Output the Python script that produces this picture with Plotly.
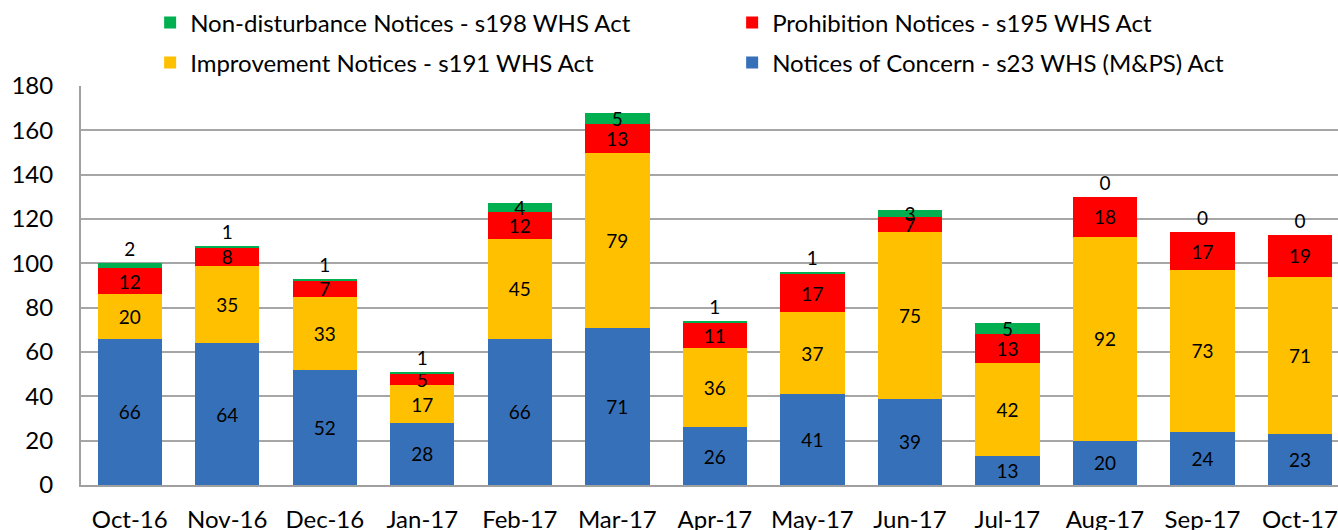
import plotly.graph_objects as go

months = ["Oct-16", "Nov-16", "Dec-16", "Jan-17", "Feb-17", "Mar-17", "Apr-17",
          "May-17", "Jun-17", "Jul-17", "Aug-17", "Sep-17", "Oct-17"]
concern = [66, 64, 52, 28, 66, 71, 26, 41, 39, 13, 20, 24, 23]
improvement = [20, 35, 33, 17, 45, 79, 36, 37, 75, 42, 92, 73, 71]
prohibition = [12, 8, 7, 5, 12, 13, 11, 17, 7, 13, 18, 17, 19]
nondisturbance = [2, 1, 1, 1, 4, 5, 1, 1, 3, 5, 0, 0, 0]

FONT = "Lato"
series = [
    ("Notices of Concern - s23 WHS (M&PS) Act", concern, "#3670B8", "legend2"),
    ("Improvement Notices - s191 WHS Act", improvement, "#FFC000", "legend2"),
    ("Prohibition Notices - s195 WHS Act", prohibition, "#FF0000", "legend"),
    ("Non-disturbance Notices - s198 WHS Act", nondisturbance, "#00B050", "legend"),
]

fig = go.Figure()
for i, (name, vals, color, leg) in enumerate(series):
    top = i == len(series) - 1
    pos = ["inside" if (not top or v >= 3) else "outside" for v in vals]
    fig.add_trace(go.Bar(
        x=months, y=vals, name=name, legend=leg,
        marker=dict(color=color, line=dict(width=0)),
        text=[str(v) for v in vals], textposition=pos, textangle=0,
        insidetextanchor="middle", constraintext="none",
        textfont=dict(family=FONT, size=19, color="black"),
        outsidetextfont=dict(family=FONT, size=19, color="black"),
        cliponaxis=not top,
    ))

legend_common = dict(orientation="h", traceorder="reversed", x=0.055, xanchor="left",
                     yanchor="middle", yref="container",
                     entrywidth=537, entrywidthmode="pixels",
                     font=dict(family=FONT, size=24, color="black"),
                     itemwidth=30, bgcolor="rgba(0,0,0,0)")

fig.update_layout(
    barmode="stack", bargap=0.34,
    width=1338, height=530,
    margin=dict(l=81, r=0, t=86, b=45, autoexpand=False),
    paper_bgcolor="white", plot_bgcolor="white",
    font=dict(family=FONT, size=24, color="black"),
    showlegend=True,
    legend=dict(legend_common, y=1 - 23 / 530),
    legend2=dict(legend_common, y=1 - 63 / 530),
    xaxis=dict(range=[-0.5, 12.39], showgrid=False, showline=True, automargin=False,
               linecolor="#A0A0A0", linewidth=2, ticks="", ticklabelstandoff=12,
               tickfont=dict(family=FONT, size=24)),
    yaxis=dict(range=[0, 180], dtick=20, showgrid=True, gridcolor="#A6A6A6",
               gridwidth=2, showline=True, linecolor="#A0A0A0", linewidth=2,
               zeroline=False, ticks="", ticklabelstandoff=21, automargin=False,
               tickfont=dict(family=FONT, size=24)),
)
fig.write_html("out.html", config={"displayModeBar": False},
               post_script="document.body.style.margin='0';document.body.style.overflow='hidden';")
